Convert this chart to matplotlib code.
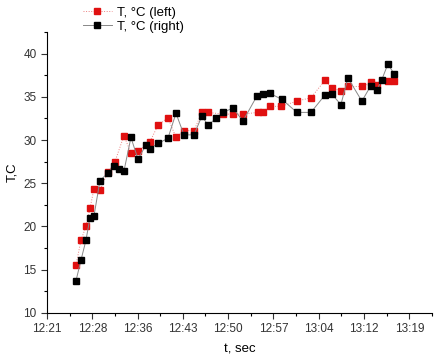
import numpy as np
import matplotlib.pyplot as plt

plt.rcParams['font.family'] = ['Liberation Sans', 'DejaVu Sans']

# time in minutes after the 12:21 tick
t_left = [4.64, 5.44, 6.24, 6.88, 7.52, 8.48, 9.76, 10.88, 12.32, 13.44, 14.56,
          16.48, 17.76, 19.36, 20.65, 21.93, 23.53, 24.81, 25.77, 28.17, 29.77,
          31.37, 33.77, 34.57, 35.69, 37.45, 40.01, 42.25, 44.49, 45.61, 47.05,
          48.17, 50.41, 51.85, 52.81, 54.57, 55.53]
T_left = [15.5, 18.4, 20.0, 22.1, 24.3, 24.2, 26.3, 27.5, 30.5, 28.5, 28.7,
          29.8, 31.7, 32.6, 30.3, 31.1, 31.1, 33.2, 33.2, 33.0, 33.0,
          33.0, 33.2, 33.3, 33.9, 33.9, 34.5, 34.9, 36.9, 36.0, 35.7,
          36.2, 36.2, 36.7, 36.4, 36.8, 36.8]

t_right = [4.64, 5.44, 6.24, 6.88, 7.52, 8.48, 9.76, 10.72, 11.52, 12.32, 13.44,
           14.56, 15.84, 16.48, 17.76, 19.36, 20.65, 21.93, 23.53, 24.81, 25.77,
           27.05, 28.17, 29.77, 31.37, 33.61, 34.57, 35.69, 37.61, 40.01, 42.25,
           44.49, 45.61, 47.05, 48.17, 50.41, 51.85, 52.81, 53.61, 54.57, 55.53]
T_right = [13.7, 16.1, 18.4, 21.0, 21.2, 25.3, 26.2, 27.0, 26.6, 26.4, 30.3,
           27.8, 29.4, 29.0, 29.6, 30.2, 33.1, 30.6, 30.6, 32.8, 31.7,
           32.5, 33.2, 33.7, 32.2, 35.1, 35.3, 35.4, 34.7, 33.2, 33.2,
           35.2, 35.3, 34.1, 37.2, 34.5, 36.3, 35.8, 37.0, 38.8, 37.7]

tick_labels = ['12:21', '12:28', '12:36', '12:43', '12:50', '12:57', '13:04', '13:12', '13:19']
tick_step = 7.25

fig = plt.figure(figsize=(4.35, 3.6), dpi=100)
ax = fig.add_axes([0.108, 0.131, 0.885, 0.78])

ax.plot(t_left, T_left, color='#ec8080', linestyle=':', linewidth=0.7,
        marker='s', markersize=4.0, markerfacecolor='#e01010',
        markeredgecolor='#e01010', label='T, °C (left)')
ax.plot(t_right, T_right, color='#888888', linestyle='-', linewidth=0.7,
        marker='s', markersize=4.0, markerfacecolor='black',
        markeredgecolor='black', label='T, °C (right)')

ax.set_xlim(0, 8.5 * tick_step)
ax.set_ylim(10, 42.5)
ax.set_xticks(np.arange(len(tick_labels)) * tick_step)
ax.set_xticklabels(tick_labels)
ax.set_xticks(np.arange(len(tick_labels)) * tick_step + tick_step / 2, minor=True)
ax.set_yticks(np.arange(10, 41, 5))
ax.set_yticks(np.arange(12.5, 43, 5), minor=True)

for s in ['top', 'right']:
    ax.spines[s].set_visible(False)
ax.tick_params(direction='out', length=4, width=0.8, labelsize=8.5, colors='#333333')
ax.tick_params(which='minor', direction='out', length=2.5, width=0.8)

ax.set_xlabel('t, sec', fontsize=9.5, labelpad=6)
ax.set_ylabel('T,C', fontsize=9.5, labelpad=4)

ax.legend(loc='upper left', bbox_to_anchor=(0.175, 1.0), bbox_transform=fig.transFigure,
          frameon=False, fontsize=9.5, handlelength=2.2, handletextpad=0.4,
          labelspacing=0.15, borderaxespad=0.1)

fig.savefig('out.png', dpi=100)
